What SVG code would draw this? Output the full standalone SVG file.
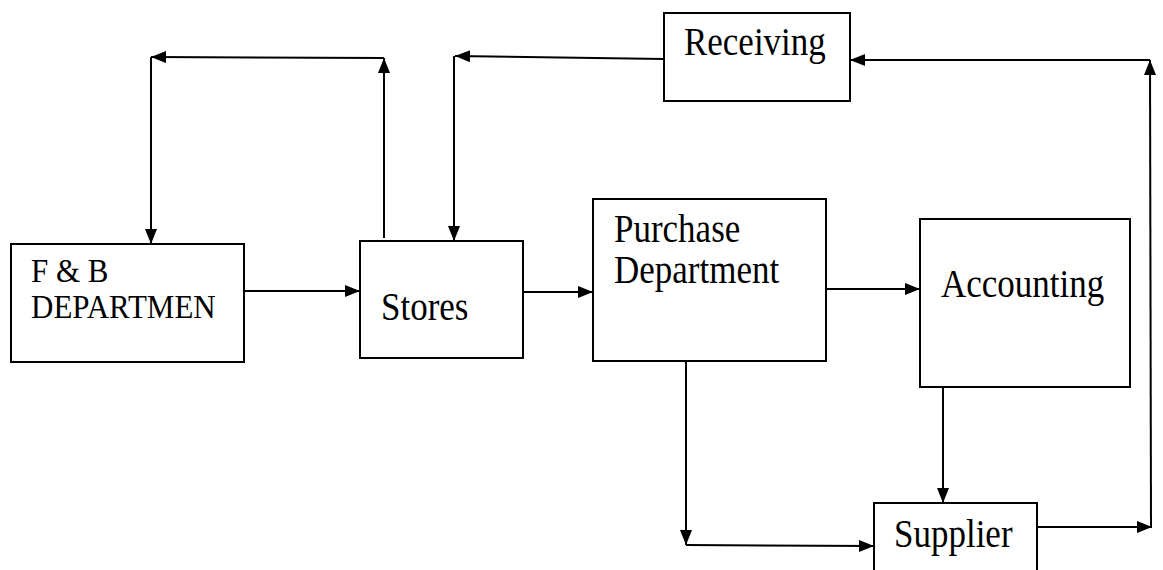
<svg xmlns="http://www.w3.org/2000/svg" width="1163" height="570" viewBox="0 0 1163 570">
<style>
.box{fill:#fff;stroke:#000;stroke-width:2}
.lbl{font-family:"Liberation Serif","Times New Roman",serif;font-size:35px;fill:#000}
.sm{font-size:31px}
.c{fill:none;stroke:#000;stroke-width:2}
</style>
<defs>
<marker id="ah" viewBox="0 0 15 12" refX="15" refY="6" markerWidth="15" markerHeight="12" markerUnits="userSpaceOnUse" orient="auto">
<path d="M0,0 L15,6 L0,12 Z" fill="#000"/>
</marker>
</defs>
<rect width="1163" height="570" fill="#fff"/>
<g id="connectors">
<path class="c" d="M384,238 L384,58" marker-end="url(#ah)"/>
<path class="c" d="M384,58 L151,57" marker-end="url(#ah)"/>
<path class="c" d="M151,57 L151,244" marker-end="url(#ah)"/>
<path class="c" d="M664,59 L455,56" marker-end="url(#ah)"/>
<path class="c" d="M454,56 L454,241" marker-end="url(#ah)"/>
<path class="c" d="M244,291 L360,291" marker-end="url(#ah)"/>
<path class="c" d="M523,292 L593,292" marker-end="url(#ah)"/>
<path class="c" d="M826,289 L920,289" marker-end="url(#ah)"/>
<path class="c" d="M686,362 L686,545" marker-end="url(#ah)"/>
<path class="c" d="M686,545 L874,546" marker-end="url(#ah)"/>
<path class="c" d="M943,387 L943,503" marker-end="url(#ah)"/>
<path class="c" d="M1037,527 L1152,527" marker-end="url(#ah)"/>
<path class="c" d="M1151,527 L1150,60" marker-end="url(#ah)"/>
<path class="c" d="M1150,60 L850,60" marker-end="url(#ah)"/>
</g>
<g id="fb">
<rect class="box" x="11" y="244" width="233" height="118"/>
<text class="lbl sm" x="31" y="282" transform="translate(0,282) scale(1,1.12) translate(0,-282)">F &amp; B</text>
<text class="lbl sm" x="31" y="318" transform="translate(0,318) scale(1,1.12) translate(0,-318)">DEPARTMEN</text>
</g>
<g id="stores">
<rect class="box" x="360" y="241" width="163" height="117"/>
<text class="lbl" x="381" y="320" transform="translate(0,320) scale(1,1.12) translate(0,-320)">Stores</text>
</g>
<g id="receiving">
<rect class="box" x="664" y="13" width="186" height="88"/>
<text class="lbl" x="684" y="55" transform="translate(0,55) scale(1,1.12) translate(0,-55)">Receiving</text>
</g>
<g id="purchase">
<rect class="box" x="593" y="199" width="233" height="162"/>
<text class="lbl" x="614" y="242" transform="translate(0,242) scale(1,1.12) translate(0,-242)">Purchase</text>
<text class="lbl" x="614" y="283" transform="translate(0,283) scale(1,1.12) translate(0,-283)">Department</text>
</g>
<g id="accounting">
<rect class="box" x="920" y="219" width="210" height="168"/>
<text class="lbl" x="941" y="297" transform="translate(0,297) scale(1,1.12) translate(0,-297)">Accounting</text>
</g>
<g id="supplier">
<rect class="box" x="874" y="503" width="163" height="80"/>
<text class="lbl" x="894" y="547" transform="translate(0,547) scale(1,1.12) translate(0,-547)">Supplier</text>
</g>
</svg>
